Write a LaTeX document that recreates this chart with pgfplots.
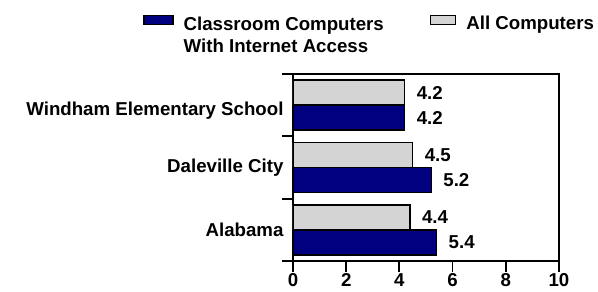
\documentclass[border=0pt]{standalone}
\usepackage{fontspec}
\setmainfont{Liberation Sans}
\usepackage{pgfplots}
\pgfplotsset{compat=1.18}
\definecolor{navy}{RGB}{0,0,128}
\definecolor{lgray}{RGB}{212,212,212}
\newcommand{\bigf}{\fontsize{18.67}{22}\selectfont\bfseries}
\pgfplotsset{
  blueleg/.style={legend image code/.code={\draw[##1] (0pt,-1pt) rectangle (29pt,8pt);}},
  grayleg/.style={legend image code/.code={\draw[##1] (0pt,-1pt) rectangle (25pt,8pt);}},
}
\begin{document}
\begin{tikzpicture}[font=\bigf]
\begin{axis}[
  at={(0pt,0pt)}, anchor=south west,
  scale only axis, width=266pt, height=187pt,
  xbar, bar width=25pt,
  xmin=0, xmax=10, ymin=-0.5, ymax=2.5,
  xtick={0,2,...,10},
  ytick={-0.5,0.5,1.5,2.5}, yticklabels={},
  extra y ticks={0,1,2},
  extra y tick labels={Alabama,Daleville City,{\raisebox{-10pt}[0pt][0pt]{Windham Elementary School}}},
  extra y tick style={major tick length=0pt, yticklabel style={xshift=-6pt}},
  tick align=outside, major tick length=11pt,
  xtick pos=lower, ytick pos=left,
  axis line style={line width=1.8pt},
  every tick/.append style={line width=1.8pt, black},
  /pgf/number format/assume math mode=true,
  tick label style={font=\bigf},
  xticklabel style={inner sep=1pt, yshift=0pt},
  point meta=x,
  nodes near coords,
  nodes near coords style={font=\bigf, xshift=8pt, /pgf/number format/.cd, fixed, precision=1, fixed zerofill},
  legend style={at={(-0.564,1.326)}, anchor=north west, draw=none, fill=none, inner sep=0pt,
    font=\bigf, cells={anchor=west},
    /tikz/every odd column/.append style={column sep=8pt},
    /tikz/every even column/.append style={column sep=44pt}},
  legend columns=2,
]
\addplot[fill=navy, draw=black, line width=1.5pt, bar shift=-12.5pt, blueleg]
  coordinates {(5.4,0) (5.2,1) (4.2,2)};
\addplot[fill=lgray, draw=black, line width=1.5pt, bar shift=12.5pt, grayleg]
  coordinates {(4.4,0) (4.5,1) (4.2,2)};
\legend{{\begin{tabular}[t]{@{}l@{}}Classroom Computers\\With Internet Access\end{tabular}},All Computers}
\end{axis}
\pgfresetboundingbox
\useasboundingbox (-293pt,-31pt) rectangle (305pt,261pt);
\end{tikzpicture}
\end{document}
